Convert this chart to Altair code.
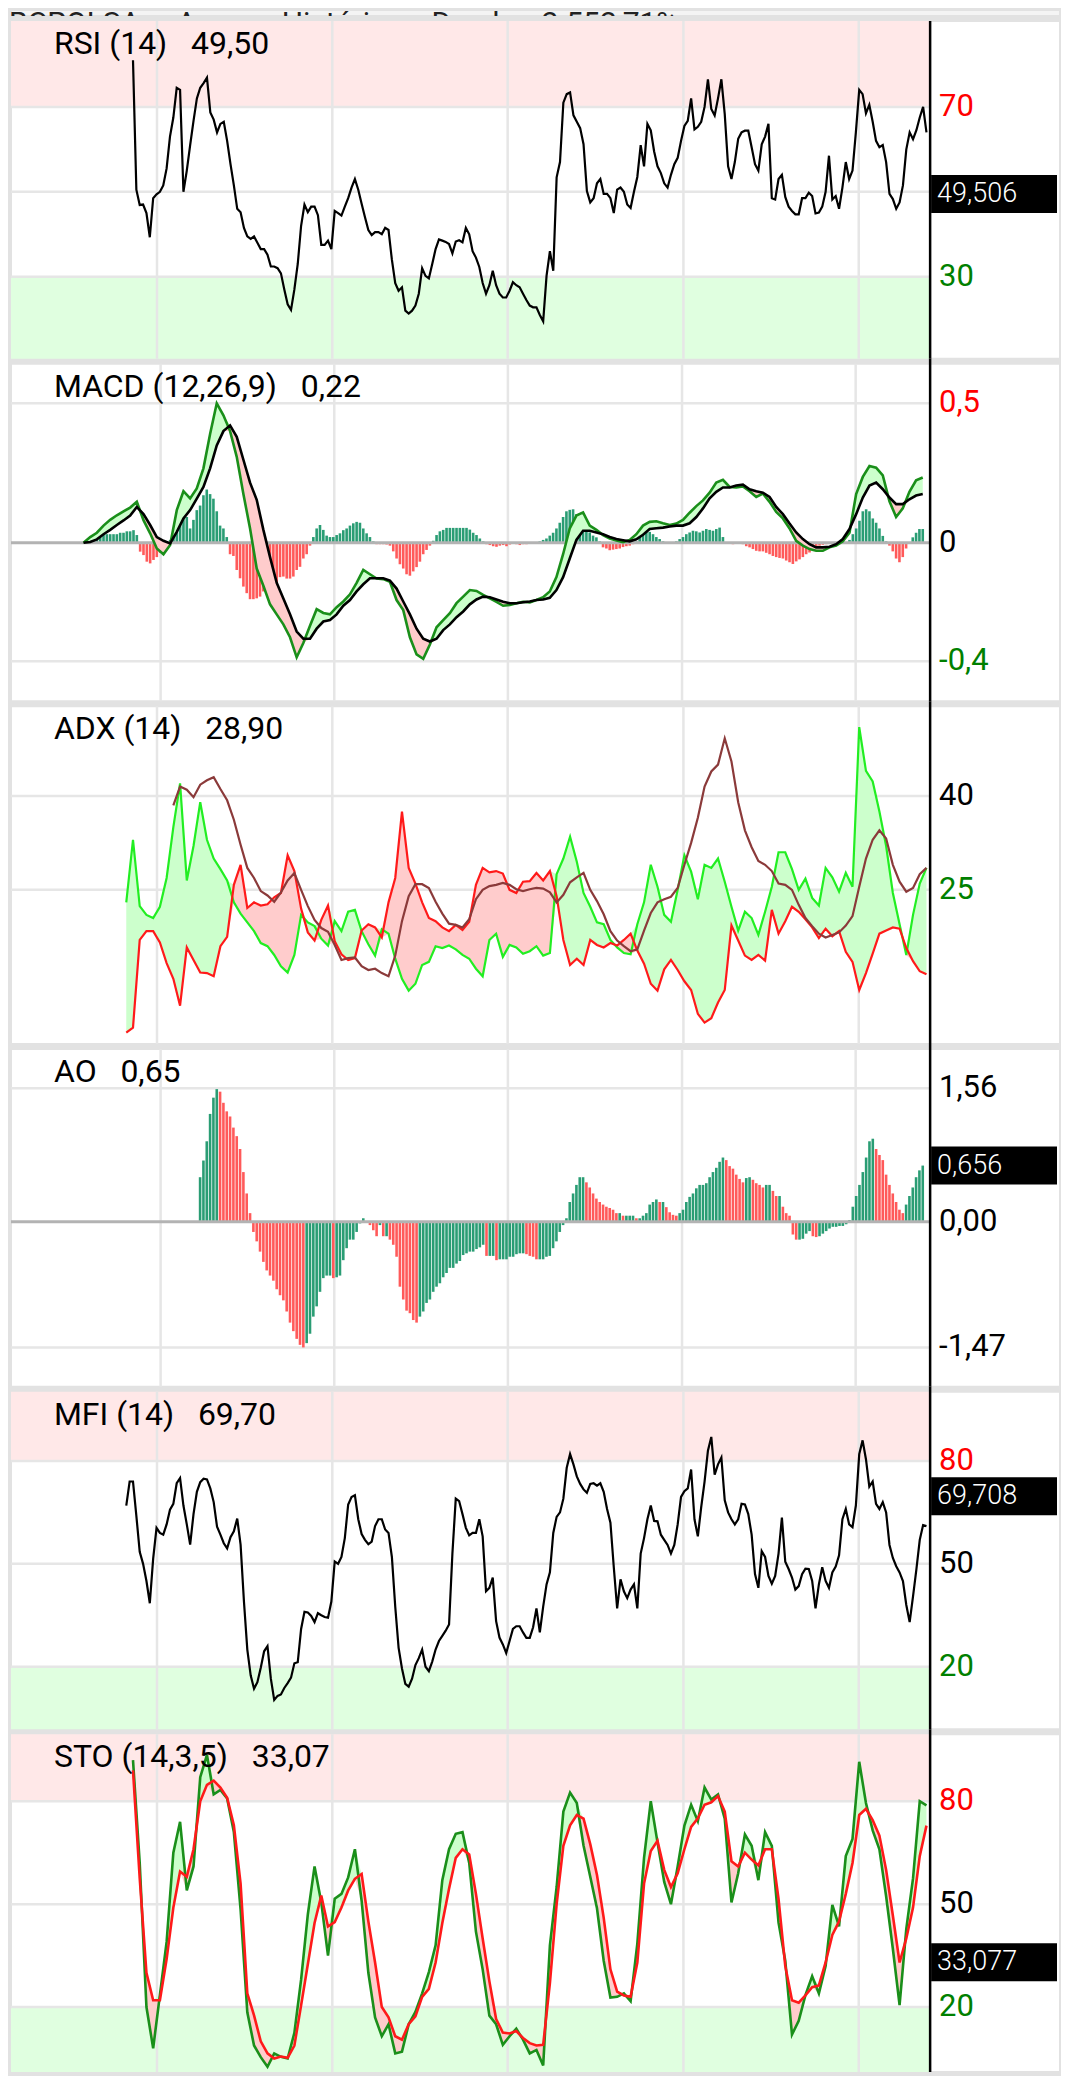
import altair as alt
import pandas as pd

# ---------------- data (weekly closes, week 0 = 2021-11-05, last week = 237) ----------------
WEEK0 = pd.Timestamp("2021-11-05")
LAST_WEEK = 237

# RSI(14), weekly
rsi = [81.0, 50.5, 46.9, 47.0, 45.0, 39.3, 48.5, 49.4, 50.0, 51.5,
       55.5, 63.0, 67.5, 74.5, 74.0, 50.0, 55.0, 61.0, 66.7, 72.0,
       74.5, 75.6, 76.9, 68.7, 67.0, 64.0, 66.0, 66.5, 62.0, 56.5,
       51.5, 46.0, 45.2, 41.5, 39.5, 38.9, 39.5, 38.0, 36.5, 36.5,
       35.2, 32.4, 32.4, 32.0, 30.8, 27.0, 23.5, 22.2, 27.0, 33.0,
       42.0, 47.0, 45.2, 46.5, 46.5, 44.5, 37.5, 37.5, 38.5, 36.5,
       45.5, 45.0, 44.4, 46.5, 48.5, 51.0, 53.0, 50.5, 47.2, 44.0,
       41.0, 39.8, 40.5, 40.5, 40.0, 41.5, 41.0, 34.0, 28.5, 26.7,
       27.5, 22.0, 21.3, 22.0, 23.2, 26.0, 32.0, 30.2, 29.6, 33.0,
       36.5, 38.8, 38.5, 38.2, 37.7, 35.5, 38.3, 38.6, 38.1, 41.5,
       40.0, 36.0, 34.5, 32.3, 28.5, 26.0, 28.0, 31.4, 28.0, 26.0,
       25.1, 25.1, 26.7, 28.7, 28.0, 27.5, 26.0, 24.5, 23.2, 22.8,
       22.8, 21.0, 19.5, 30.2, 36.0, 31.4, 53.4, 57.0, 71.0, 73.0,
       73.4, 68.0, 66.5, 65.0, 61.2, 50.2, 47.5, 48.5, 52.0, 53.0,
       49.5, 49.5, 48.5, 45.0, 50.5, 51.0, 50.0, 47.0, 46.2, 50.0,
       53.5, 61.0, 56.0, 66.0, 64.5, 59.5, 56.0, 54.4, 52.0, 51.0,
       54.0, 56.5, 58.0, 62.0, 65.5, 66.7, 72.0, 64.7, 65.3, 66.5,
       70.0, 76.5, 69.5, 68.0, 72.0, 76.5, 68.3, 56.0, 53.0, 57.0,
       62.5, 64.0, 64.4, 64.4, 60.5, 56.5, 55.0, 61.2, 63.0, 66.0,
       48.5, 48.2, 53.0, 54.0, 48.8, 46.5, 45.5, 44.7, 44.7, 48.5,
       48.5, 49.8, 49.0, 44.9, 45.1, 46.5, 50.0, 58.5, 48.2, 49.0,
       46.0, 51.0, 57.0, 53.0, 55.0, 64.0, 74.0, 73.0, 68.5, 70.5,
       66.5, 62.0, 60.5, 61.0, 57.0, 49.5, 48.3, 46.0, 47.5, 51.5,
       60.0, 64.0, 62.4, 64.5, 67.5, 70.0, 64.0]

# MACD(12,26,9) line and signal, every 2 weeks
macd = [0.0, 0.02, 0.035, 0.06, 0.08, 0.096, 0.11, 0.123, 0.143, 0.079,
        0.033, -0.02, -0.04, -0.008, 0.114, 0.18, 0.155, 0.19, 0.26, 0.38,
        0.487, 0.445, 0.39, 0.30, 0.17, 0.05, -0.09, -0.15, -0.215, -0.25,
        -0.285, -0.33, -0.40, -0.35, -0.29, -0.232, -0.245, -0.25, -0.225, -0.205,
        -0.18, -0.14, -0.095, -0.11, -0.125, -0.127, -0.136, -0.2, -0.235, -0.33,
        -0.39, -0.405, -0.355, -0.295, -0.27, -0.246, -0.211, -0.188, -0.165, -0.168,
        -0.182, -0.194, -0.206, -0.22, -0.217, -0.211, -0.206, -0.208, -0.2, -0.19,
        -0.17, -0.12, -0.04, 0.05, 0.095, 0.106, 0.06, 0.045, 0.027, 0.015,
        0.008, 0.002, 0.01, 0.03, 0.06, 0.073, 0.075, 0.068, 0.062, 0.067,
        0.08, 0.105, 0.128, 0.148, 0.175, 0.21, 0.22, 0.195, 0.193, 0.197,
        0.18, 0.16, 0.172, 0.143, 0.108, 0.085, 0.05, 0.007, -0.01, -0.022,
        -0.028, -0.028, -0.016, -0.01, 0.005, 0.035, 0.17, 0.23, 0.268, 0.262,
        0.235, 0.145, 0.09, 0.12, 0.178, 0.218, 0.228]
signal = [0.0, 0.003, 0.012, 0.03, 0.045, 0.062, 0.078, 0.095, 0.125, 0.10,
          0.062, 0.02, 0.007, -0.002, 0.038, 0.085, 0.114, 0.154, 0.195, 0.26,
          0.34, 0.39, 0.41, 0.37, 0.29, 0.21, 0.15, 0.045, -0.05, -0.14,
          -0.195, -0.25, -0.31, -0.335, -0.335, -0.30, -0.275, -0.27, -0.25, -0.22,
          -0.2, -0.17, -0.145, -0.124, -0.124, -0.124, -0.132, -0.16, -0.205, -0.25,
          -0.3, -0.335, -0.345, -0.335, -0.305, -0.285, -0.26, -0.24, -0.215, -0.198,
          -0.188, -0.19, -0.198, -0.206, -0.211, -0.211, -0.208, -0.205, -0.2, -0.198,
          -0.192, -0.165, -0.12, -0.055, 0.01, 0.042, 0.042, 0.036, 0.03, 0.02,
          0.013, 0.009, 0.005, 0.012, 0.028, 0.048, 0.051, 0.053, 0.057, 0.06,
          0.06, 0.068, 0.09, 0.12, 0.155, 0.178, 0.193, 0.193, 0.2, 0.203,
          0.187, 0.18, 0.175, 0.16, 0.125, 0.1, 0.067, 0.036, 0.013, -0.005,
          -0.016, -0.016, -0.014, -0.005, 0.013, 0.048, 0.1, 0.158, 0.2, 0.21,
          0.187, 0.158, 0.135, 0.135, 0.152, 0.165, 0.17]
# MACD histogram, weekly
hist = [0.005, 0.01, 0.02, 0.03, 0.03, 0.03, 0.03, 0.03, 0.03, 0.03, 0.035, 0.035, 0.04, 0.04,
        0.044, 0.027, -0.031, -0.043, -0.066, -0.072, -0.06, -0.05, -0.035, -0.026,
        -0.01, 0.01, 0.027, 0.06, 0.08, 0.108, 0.09, 0.05, 0.08, 0.114,
        0.13, 0.166, 0.186, 0.17, 0.154, 0.11, 0.06, 0.05, 0.02, -0.04,
        -0.046, -0.095, -0.124, -0.153, -0.176, -0.197, -0.197, -0.194, -0.188, -0.17,
        -0.153, -0.124, -0.16, -0.15, -0.12, -0.118, -0.125, -0.125, -0.118, -0.095,
        -0.084, -0.055, -0.04, -0.01, 0.02, 0.05, 0.062, 0.045, 0.025, 0.02,
        0.02, 0.027, 0.033, 0.044, 0.05, 0.06, 0.068, 0.073, 0.07, 0.05,
        0.033, 0.02, 0.005, -0.005, -0.005, -0.005, -0.006, -0.01, -0.03, -0.055,
        -0.075, -0.09, -0.11, -0.115, -0.1, -0.085, -0.066, -0.04, -0.025, -0.01,
        0.007, 0.027, 0.04, 0.045, 0.052, 0.052, 0.052, 0.052, 0.052, 0.052,
        0.052, 0.046, 0.035, 0.027, 0.015, 0.005, -0.005, -0.008, -0.012, -0.014,
        -0.01, -0.008, -0.012, -0.006, -0.004, -0.005,
        -0.008, -0.005, -0.005, 0.0,
        0.0, 0.0, 0.005, 0.01, 0.015, 0.025, 0.035, 0.05, 0.07, 0.09,
        0.11, 0.115, 0.117, 0.10, 0.077, 0.06, 0.045, 0.036, 0.025, 0.019,
        0.005, -0.016, -0.02, -0.026, -0.024, -0.022, -0.02, -0.015, -0.012, -0.01,
        -0.005, 0.005, 0.019, 0.03, 0.042, 0.038, 0.03, 0.02, 0.013, 0.005,
        0.0, 0.0, 0.002, 0.005, 0.013, 0.02, 0.03, 0.036, 0.042, 0.04,
        0.036, 0.042, 0.048, 0.045, 0.042, 0.048, 0.053, 0.02, 0.0, -0.003,
        -0.005, 0.0, 0.0, -0.005, -0.012, -0.016, -0.022, -0.028, -0.03, -0.03,
        -0.035, -0.04, -0.046, -0.05, -0.053, -0.055, -0.062, -0.068, -0.074, -0.065,
        -0.058, -0.05, -0.04, -0.034, -0.025, -0.016, -0.01, -0.007, -0.005, -0.004,
        -0.005, -0.004, -0.005, -0.003, 0.0, 0.01, 0.03, 0.05, 0.077, 0.11,
        0.117, 0.11, 0.085, 0.07, 0.05, 0.024, 0.005, -0.01, -0.03, -0.055,
        -0.068, -0.05, -0.02, 0.0, 0.019, 0.035, 0.048, 0.048]

# ADX(14): +DI, -DI (every 2 weeks) and ADX
plus_di = [23.0, 33.0, 22.4, 21.0, 20.5, 22.3, 26.9, 35.0, 42.0, 26.5,
           32.0, 39.0, 33.0, 30.0, 28.3, 26.5, 23.0, 21.2, 19.8, 18.4,
           16.5, 16.0, 14.6, 12.8, 11.8, 14.6, 21.0, 19.8, 19.2, 17.2,
           16.1, 20.0, 18.4, 21.5, 21.8, 18.4, 16.3, 14.5, 18.7, 18.0,
           14.0, 10.8, 8.9, 10.0, 13.0, 13.5, 16.0, 15.7, 16.1, 15.5,
           14.6, 14.0, 12.4, 11.2, 17.0, 18.0, 14.3, 16.2, 15.8, 14.8,
           15.2, 16.0, 14.5, 14.9, 27.5, 30.0, 33.5, 29.5, 24.5, 22.3,
           19.8, 19.5, 17.0, 15.8, 14.9, 14.7, 19.5, 23.0, 29.0, 25.5,
           21.0, 19.9, 25.0, 30.5, 27.9, 23.5, 29.0, 28.5, 30.0, 26.3,
           22.3, 18.5, 21.5, 20.5, 17.8, 21.5, 25.5, 31.0, 31.0, 28.3,
           25.0, 26.8, 23.7, 22.5, 28.5, 27.0, 24.7, 27.7, 25.5, 51.0,
           44.0, 42.3, 37.5, 32.0, 24.5, 19.5, 14.6, 21.0, 26.0, 28.5]
minus_di = [2.2, 3.0, 17.0, 18.4, 18.4, 16.6, 13.3, 10.8, 6.5, 15.8,
            13.8, 11.8, 11.7, 11.2, 16.0, 17.5, 25.8, 29.0, 22.1, 23.0,
            22.5, 22.7, 23.8, 24.5, 30.5, 28.0, 22.0, 18.2, 16.9, 20.2,
            22.5, 16.8, 14.7, 13.8, 14.1, 18.5, 19.5, 19.0, 17.4, 23.0,
            26.9, 37.5, 28.5, 26.0, 23.0, 20.5, 20.0, 19.0, 18.4, 19.4,
            18.6, 19.9, 25.8, 28.5, 27.8, 28.0, 27.6, 25.0, 24.5, 26.3,
            26.4, 27.7, 26.5, 28.0, 24.0, 17.0, 13.0, 14.0, 13.0, 17.0,
            16.2, 15.8, 16.5, 16.1, 17.0, 18.0, 15.3, 13.2, 10.0, 8.9,
            12.3, 13.8, 12.2, 10.4, 9.0, 5.2, 3.8, 4.5, 7.0, 9.0,
            19.3, 16.9, 14.5, 13.8, 14.6, 13.7, 21.8, 18.0, 20.0, 22.3,
            21.5, 20.3, 19.0, 17.3, 18.8, 17.6, 18.4, 15.1, 13.5, 9.0,
            11.7, 14.8, 18.0, 18.5, 19.0, 18.8, 15.7, 13.6, 12.0, 11.5]
adx = [38.5, 41.5, 41.0, 39.8, 41.8, 42.5, 43.0, 41.1, 39.3, 36.2,
       32.2, 28.5, 26.9, 24.8, 24.1, 23.1, 24.6, 26.5, 27.7, 25.0,
       22.4, 20.2, 18.9, 18.3, 16.2, 13.8, 14.1, 14.2, 12.8, 12.2,
       12.4, 11.7, 11.2, 14.5, 20.0, 24.0, 25.9, 25.9, 25.3, 23.1,
       21.2, 19.6, 19.4, 19.0, 20.3, 23.5, 25.0, 25.6, 25.8, 26.1,
       25.8, 25.1, 24.8, 25.1, 25.3, 25.2, 24.6, 23.0, 24.2, 26.2,
       27.0, 27.7, 25.0, 23.2, 21.1, 18.4, 16.9, 16.0, 15.2, 15.5,
       18.5, 21.3, 23.0, 23.5, 23.9, 25.3, 29.0, 32.5, 36.5, 41.5,
       43.9, 45.0, 49.2, 45.5, 39.0, 34.5, 31.8, 29.6, 29.0, 28.0,
       26.0, 25.8, 25.0, 22.6, 20.5, 19.2, 18.0, 17.4, 17.8, 18.2,
       19.3, 20.8, 25.5, 30.0, 33.0, 34.5, 33.2, 29.0, 26.3, 24.7,
       25.3, 27.5, 28.5]

# Awesome Oscillator, weekly
ao = [0.52, 0.715, 0.94, 1.26, 1.45, 1.55, 1.52, 1.39, 1.29, 1.23,
      1.10, 1.00, 0.85, 0.58, 0.33, 0.10, -0.12, -0.23, -0.35, -0.47,
      -0.57, -0.63, -0.69, -0.79, -0.86, -0.92, -1.05, -1.18, -1.28, -1.37,
      -1.44, -1.47, -1.42, -1.31, -1.11, -0.99, -0.82, -0.66, -0.63, -0.63,
      -0.66, -0.65, -0.63, -0.45, -0.31, -0.21, -0.21, -0.12, -0.02, 0.04,
      -0.01, -0.04, -0.10, -0.17, -0.04, -0.17, -0.17, -0.21, -0.27, -0.41,
      -0.76, -0.91, -1.04, -1.07, -1.15, -1.18, -1.11, -1.05, -0.95, -0.91,
      -0.82, -0.76, -0.72, -0.65, -0.60, -0.54, -0.54, -0.49, -0.46, -0.39,
      -0.37, -0.35, -0.35, -0.32, -0.30, -0.27, -0.40, -0.40, -0.40, -0.45,
      -0.44, -0.44, -0.44, -0.41, -0.41, -0.38, -0.37, -0.37, -0.38, -0.40,
      -0.41, -0.44, -0.44, -0.44, -0.41, -0.40, -0.31, -0.23, -0.12, -0.04,
      0.04, 0.23, 0.33, 0.43, 0.52, 0.52, 0.46, 0.40, 0.33, 0.27,
      0.23, 0.20, 0.175, 0.16, 0.14, 0.10, 0.10, 0.07, 0.07, 0.07,
      0.07, 0.04, 0.04, 0.07, 0.10, 0.20, 0.23, 0.26, 0.23, 0.23,
      0.17, 0.11, 0.08, 0.07, 0.10, 0.14, 0.23, 0.29, 0.33, 0.39,
      0.43, 0.43, 0.45, 0.52, 0.58, 0.63, 0.70, 0.75, 0.72, 0.65,
      0.62, 0.55, 0.50, 0.46, 0.51, 0.52, 0.49, 0.45, 0.43, 0.40,
      0.43, 0.43, 0.36, 0.30, 0.30, 0.175, 0.10, 0.07, -0.15, -0.21,
      -0.21, -0.20, -0.14, -0.11, -0.17, -0.18, -0.17, -0.14, -0.11, -0.08,
      -0.06, -0.06, -0.05, -0.05, -0.03, 0.02, 0.175, 0.30, 0.43, 0.58,
      0.75, 0.94, 0.97, 0.85, 0.78, 0.72, 0.55, 0.43, 0.33, 0.23,
      0.14, 0.10, 0.20, 0.30, 0.40, 0.52, 0.60, 0.656]

# Money Flow Index(14), weekly
mfi = [67.0, 74.0, 74.0, 64.0, 53.5, 50.0, 45.0, 38.5, 51.5, 60.5,
       59.0, 58.5, 61.5, 65.8, 67.5, 73.5, 75.0, 67.0, 61.5, 55.6,
       64.5, 71.0, 73.8, 74.8, 74.6, 72.0, 68.0, 60.8, 58.5, 56.0,
       54.5, 57.8, 59.5, 63.2, 55.6, 39.0, 25.0, 17.5, 13.6, 15.5,
       19.7, 24.5, 26.0, 16.5, 10.3, 11.5, 11.9, 13.8, 15.2, 16.8,
       21.0, 21.3, 31.0, 36.0, 35.8, 34.8, 33.0, 35.6, 35.0, 34.5,
       34.3, 39.0, 50.7, 50.0, 52.0, 57.5, 67.3, 69.5, 70.0, 63.0,
       58.7, 57.0, 55.7, 56.5, 61.0, 63.0, 63.0, 60.0, 59.0, 52.0,
       37.5, 25.5, 19.5, 15.0, 14.2, 16.5, 20.5, 22.5, 25.0, 20.0,
       18.7, 21.5, 25.0, 27.5, 29.0, 30.5, 32.3, 53.0, 69.0, 68.3,
       64.5, 60.5, 58.3, 59.0, 59.0, 63.0, 58.0, 42.0, 43.0, 46.0,
       33.3, 28.5, 26.5, 24.0, 27.5, 31.0, 31.8, 31.8, 30.0, 28.4,
       28.4, 31.5, 37.0, 30.0, 37.5, 44.0, 47.5, 59.0, 63.7, 65.0,
       69.0, 78.0, 82.0, 79.0, 75.5, 73.3, 71.7, 70.7, 73.3, 73.5,
       72.8, 73.5, 71.0, 66.0, 62.0, 49.0, 37.0, 45.5, 42.0, 40.0,
       42.5, 44.0, 37.0, 53.0, 57.5, 63.0, 67.0, 62.5, 62.4, 58.5,
       57.0, 55.5, 53.0, 55.5, 61.5, 69.5, 71.2, 72.0, 77.5, 63.0,
       58.0, 66.5, 74.0, 83.0, 87.0, 76.0, 79.0, 81.0, 68.5, 65.0,
       63.0, 61.5, 63.0, 67.5, 67.3, 64.5, 58.5, 47.0, 43.0, 53.7,
       52.0, 46.5, 44.2, 46.5, 53.0, 63.5, 50.6, 48.5, 46.0, 42.5,
       43.5, 47.0, 48.6, 48.5, 45.0, 37.0, 44.0, 49.0, 45.0, 43.0,
       47.5, 49.2, 52.5, 63.0, 66.0, 61.5, 60.7, 67.0, 82.0, 86.0,
       80.5, 72.5, 74.0, 67.5, 66.0, 68.0, 65.0, 55.5, 51.7, 49.3,
       47.5, 45.0, 38.0, 33.0, 40.5, 48.4, 57.0, 61.3, 61.0]

# Stochastic(14,3,5): %K and %D, every 2 weeks
sto_k = [92.0, 62.0, 20.0, 8.0, 23.5, 39.0, 65.0, 74.0, 54.0, 61.0,
         87.0, 93.5, 82.0, 83.3, 80.8, 71.0, 48.5, 18.5, 8.8, 5.4,
         2.6, 6.5, 5.5, 5.0, 12.5, 28.0, 47.0, 61.0, 50.5, 35.0,
         51.6, 53.0, 57.8, 66.0, 51.0, 30.0, 17.0, 11.5, 15.0, 6.5,
         7.0, 15.0, 18.6, 24.0, 30.2, 38.0, 57.0, 66.0, 70.5, 71.0,
         62.0, 42.0, 31.0, 17.5, 15.0, 9.0, 11.5, 13.7, 10.5, 6.5,
         7.5, 3.0, 38.0, 55.0, 77.0, 82.5, 79.5, 67.1, 58.0, 48.8,
         33.5, 22.8, 23.0, 24.0, 21.7, 38.5, 63.5, 80.0, 68.0, 56.5,
         50.0, 61.0, 72.9, 79.0, 74.2, 84.0, 80.5, 82.0, 74.9, 50.5,
         59.0, 70.3, 67.0, 57.0, 71.0, 67.0, 44.6, 33.5, 12.0, 16.0,
         23.5, 29.0, 24.0, 32.0, 49.8, 43.5, 64.0, 69.0, 91.5, 79.5,
         71.5, 66.0, 52.3, 37.0, 20.6, 42.8, 57.5, 80.0, 78.8]
sto_d = [89.0, 57.5, 30.0, 22.0, 22.0, 34.0, 49.0, 59.5, 58.0, 66.0,
         80.0, 84.8, 86.0, 84.0, 81.0, 73.0, 56.0, 24.0, 17.6, 10.0,
         6.5, 5.0, 5.6, 5.2, 8.8, 20.5, 32.5, 44.5, 52.5, 43.5,
         44.8, 49.0, 54.0, 57.4, 58.8, 45.0, 33.0, 20.0, 17.0, 11.5,
         10.5, 15.0, 17.3, 23.0, 25.3, 33.0, 44.5, 54.5, 63.5, 66.0,
         64.5, 53.0, 40.0, 27.5, 16.5, 12.6, 12.3, 13.0, 11.0, 9.5,
         8.8, 9.0, 27.0, 50.0, 67.0, 73.0, 76.0, 74.9, 67.5, 58.5,
         46.0, 31.0, 24.5, 23.4, 23.0, 33.0, 56.0, 65.5, 68.5, 60.0,
         55.0, 59.0, 66.0, 72.5, 75.0, 79.0, 79.7, 81.5, 77.0, 62.5,
         61.0, 65.0, 63.0, 61.3, 66.0, 66.0, 51.5, 32.0, 22.0, 21.3,
         23.4, 25.8, 26.3, 33.0, 41.0, 45.0, 53.0, 62.0, 76.0, 77.8,
         74.5, 70.0, 60.0, 46.7, 33.0, 40.0, 49.0, 64.0, 72.9]

years = ["2022-01-01", "2023-01-01", "2024-01-01", "2025-01-01", "2026-01-01"]
header_words = ["BCPOLSA", "Ano", "Histórico", "Desde", "2.552,71%"]

# ---------------- helpers ----------------
FONT = "Roboto"
W, H = 1050, 338
AXIS_X = 920
LABEL_X = 929
PINK_BAND, GREEN_BAND = "#ffe8e8", "#e0ffe0"
GRID, SEP = "#e6e6e6", "#e2e2e2"
RED_LBL, GREEN_LBL = "#ff0000", "#008000"
BAR_UP, BAR_DOWN = "#2a9d74", "#ff5a5a"
FILL_G, FILL_R = "#ccffcc", "#ffcccc"
ZERO = "#b3b3b3"

X = alt.X("date:T", axis=None,
          scale=alt.Scale(domain=[alt.DateTime(year=2021, month=3, date=3),
                                  alt.DateTime(year=2027, month=2, date=24)]))


def frame(step, **cols):
    n = len(next(iter(cols.values())))
    ks = [LAST_WEEK - step * (n - 1 - i) for i in range(n)]
    df = pd.DataFrame(cols)
    df["date"] = [WEEK0 + pd.Timedelta(days=7 * k) for k in ks]
    return df


def pair(step, a, b):
    n = min(len(a), len(b))
    df = frame(step, a=a[-n:], b=b[-n:])
    df["hi"] = df[["a", "b"]].max(axis=1)
    df["lo"] = df[["a", "b"]].min(axis=1)
    return df


def ysc(lo, hi):
    return alt.Scale(domain=[lo, hi], nice=False, zero=False)


def Y(field, ys):
    return alt.Y(field, type="quantitative", scale=ys, axis=None)


years_df = pd.DataFrame({"date": pd.to_datetime(years)})


def line(df, field, ys, color, width):
    return alt.Chart(df).mark_line(color=color, strokeWidth=width).encode(x=X, y=Y(field, ys))


def fills(df, ys):
    g = alt.Chart(df).mark_area(color=FILL_G).encode(x=X, y=Y("b", ys), y2="hi")
    r = alt.Chart(df).mark_area(color=FILL_R).encode(x=X, y=Y("lo", ys), y2="b")
    return [g, r]


def zero_line(ys):
    return alt.Chart(pd.DataFrame({"v": [0]})).mark_rule(color=ZERO, strokeWidth=3).encode(
        y=Y("v", ys), x=alt.value(0), x2=alt.value(AXIS_X))


def bars(df, ys, flag):
    up = alt.Chart(df).transform_filter(alt.datum[flag]).mark_bar(size=2.6, color=BAR_UP).encode(
        x=X, y=Y("v", ys), y2=alt.datum(0))
    dn = alt.Chart(df).transform_filter(~alt.datum[flag]).mark_bar(size=2.6, color=BAR_DOWN).encode(
        x=X, y=Y("v", ys), y2=alt.datum(0))
    return [up, dn]


def panel(ys, data_layers, grid, labels, title, bands=(), box=None, ext=5):
    layers = []
    for lo, hi, col in bands:
        layers.append(alt.Chart(pd.DataFrame({"lo": [lo], "hi": [hi]})).mark_rect(color=col).encode(
            x=alt.value(0), x2=alt.value(AXIS_X), y=Y("lo", ys), y2="hi"))
    layers.append(alt.Chart(years_df).mark_rule(color=GRID, strokeWidth=2.5).encode(
        x=X, y=alt.value(0), y2=alt.value(H)))
    if grid:
        layers.append(alt.Chart(pd.DataFrame({"v": grid})).mark_rule(color=GRID, strokeWidth=2.5).encode(
            y=Y("v", ys), x=alt.value(0), x2=alt.value(AXIS_X)))
    layers += data_layers
    layers.append(alt.Chart(pd.DataFrame({"z": [0]})).mark_rule(color="black", strokeWidth=2.5).encode(
        x=alt.value(AXIS_X), y=alt.value(-ext), y2=alt.value(H)))
    for v, t, c in labels:
        layers.append(alt.Chart(pd.DataFrame({"v": [v], "t": [t]})).mark_text(
            align="left", baseline="middle", font=FONT, fontSize=31, color=c).encode(
            x=alt.value(LABEL_X), y=Y("v", ys), text="t:N"))
    if box is not None:
        d = pd.DataFrame({"v": [box[0]], "t": [box[1]]})
        layers.append(alt.Chart(d).mark_rect(color="black", yOffset=-19, y2Offset=19).encode(
            x=alt.value(AXIS_X + 1), x2=alt.value(1047), y=Y("v", ys), y2="v"))
        layers.append(alt.Chart(d).mark_text(align="left", baseline="middle", font=FONT, fontSize=27,
                                             fontWeight=300, color="white").encode(
            x=alt.value(AXIS_X + 7), y=Y("v", ys), text="t:N"))
    layers.append(alt.Chart(pd.DataFrame({"t": [title]})).mark_text(
        align="left", baseline="alphabetic", font=FONT, fontSize=32, color="black").encode(
        x=alt.value(43), y=alt.value(33), text="t:N"))
    return alt.layer(*layers).properties(width=W, height=H)


SP = "\u00a0\u00a0\u00a0"

# ---------------- RSI ----------------
ys_rsi = ysc(10.7, 90.24)
rsi_df = frame(1, v=rsi)
p_rsi = panel(ys_rsi, [line(rsi_df, "v", ys_rsi, "black", 2.2)], [70, 50, 30],
              [(70, "70", RED_LBL), (30, "30", GREEN_LBL)], "RSI (14)" + SP + "49,50",
              bands=[(70, 90.24, PINK_BAND), (10.7, 30, GREEN_BAND)], box=(49.506, "49,506"), ext=0)

# ---------------- MACD ----------------
ys_macd = ysc(-0.5537, 0.6256)
macd_df = pair(2, macd, signal)
hist_df = frame(1, v=hist)
hist_df["pos"] = hist_df["v"] >= 0
p_macd = panel(ys_macd,
               bars(hist_df, ys_macd, "pos") + [zero_line(ys_macd)] + fills(macd_df, ys_macd) +
               [line(macd_df, "a", ys_macd, "#1a8f1a", 2.6), line(macd_df, "b", ys_macd, "black", 2.6)],
               [0.487, -0.414],
               [(0.487, "0,5", RED_LBL), (0, "0", "black"), (-0.414, "-0,4", GREEN_LBL)],
               "MACD (12,26,9)" + SP + "0,22")

# ---------------- ADX ----------------
ys_adx = ysc(0.38, 54.31)
di_df = pair(2, plus_di, minus_di)
adx_df = frame(2, v=adx)
p_adx = panel(ys_adx,
              fills(di_df, ys_adx) +
              [line(di_df, "a", ys_adx, "#22ee22", 2.2), line(di_df, "b", ys_adx, "#ff1a1a", 2.2),
               line(adx_df, "v", ys_adx, "#8b3a3a", 2.2)],
              [40, 25], [(40, "40", "black"), (25, "25", GREEN_LBL)], "ADX (14)" + SP + "28,90")

# ---------------- AO ----------------
ys_ao = ysc(-1.929, 2.019)
ao_df = frame(1, v=ao)
ao_df["up"] = ao_df["v"] >= ao_df["v"].shift(1).fillna(-99)
p_ao = panel(ys_ao, bars(ao_df, ys_ao, "up") + [zero_line(ys_ao)], [1.56, -1.47],
             [(1.56, "1,56", "black"), (0, "0,00", "black"), (-1.47, "-1,47", "black")],
             "AO" + SP + "0,65", box=(0.656, "0,656"))

# ---------------- MFI ----------------
ys_mfi = ysc(1.74, 100.2)
mfi_df = frame(1, v=mfi)
p_mfi = panel(ys_mfi, [line(mfi_df, "v", ys_mfi, "black", 2.2)], [80, 50, 20],
              [(80, "80", RED_LBL), (50, "50", "black"), (20, "20", GREEN_LBL)], "MFI (14)" + SP + "69,70",
              bands=[(80, 100.2, PINK_BAND), (1.74, 20, GREEN_BAND)], box=(69.708, "69,708"))

# ---------------- STO ----------------
ys_sto = ysc(1.07, 99.5)
sto_df = pair(2, sto_k, sto_d)
p_sto = panel(ys_sto,
              fills(sto_df, ys_sto) +
              [line(sto_df, "a", ys_sto, "#1a8f1a", 2.6), line(sto_df, "b", ys_sto, "#ff1a1a", 2.6)],
              [80, 50, 20], [(80, "80", RED_LBL), (50, "50", "black"), (20, "20", GREEN_LBL)],
              "STO (14,3,5)" + SP + "33,07",
              bands=[(80, 99.5, PINK_BAND), (1.07, 20, GREEN_BAND)], box=(33.077, "33,077"))

# ---------------- header strip (partly hidden page header) ----------------
hx = [-2, 166, 271, 421, 531]
header = alt.layer(*[
    alt.Chart(pd.DataFrame({"t": [w]})).mark_text(
        align="left", baseline="alphabetic", font=FONT, fontSize=30, color="#222222", clip=True).encode(
        x=alt.value(x), y=alt.value(23), text="t:N")
    for w, x in zip(header_words, hx)
]).properties(width=W, height=6, view=alt.ViewBackground(fill="#f4f4f4", stroke=SEP))

chart = alt.vconcat(header, p_rsi, p_macd, p_adx, p_ao, p_mfi, p_sto, spacing=5, bounds="flush").properties(
    background=SEP, padding=0
).configure_view(stroke=SEP, strokeWidth=2, fill="white")

chart.save("out.html", embed_options={"renderer": "svg", "actions": False})
